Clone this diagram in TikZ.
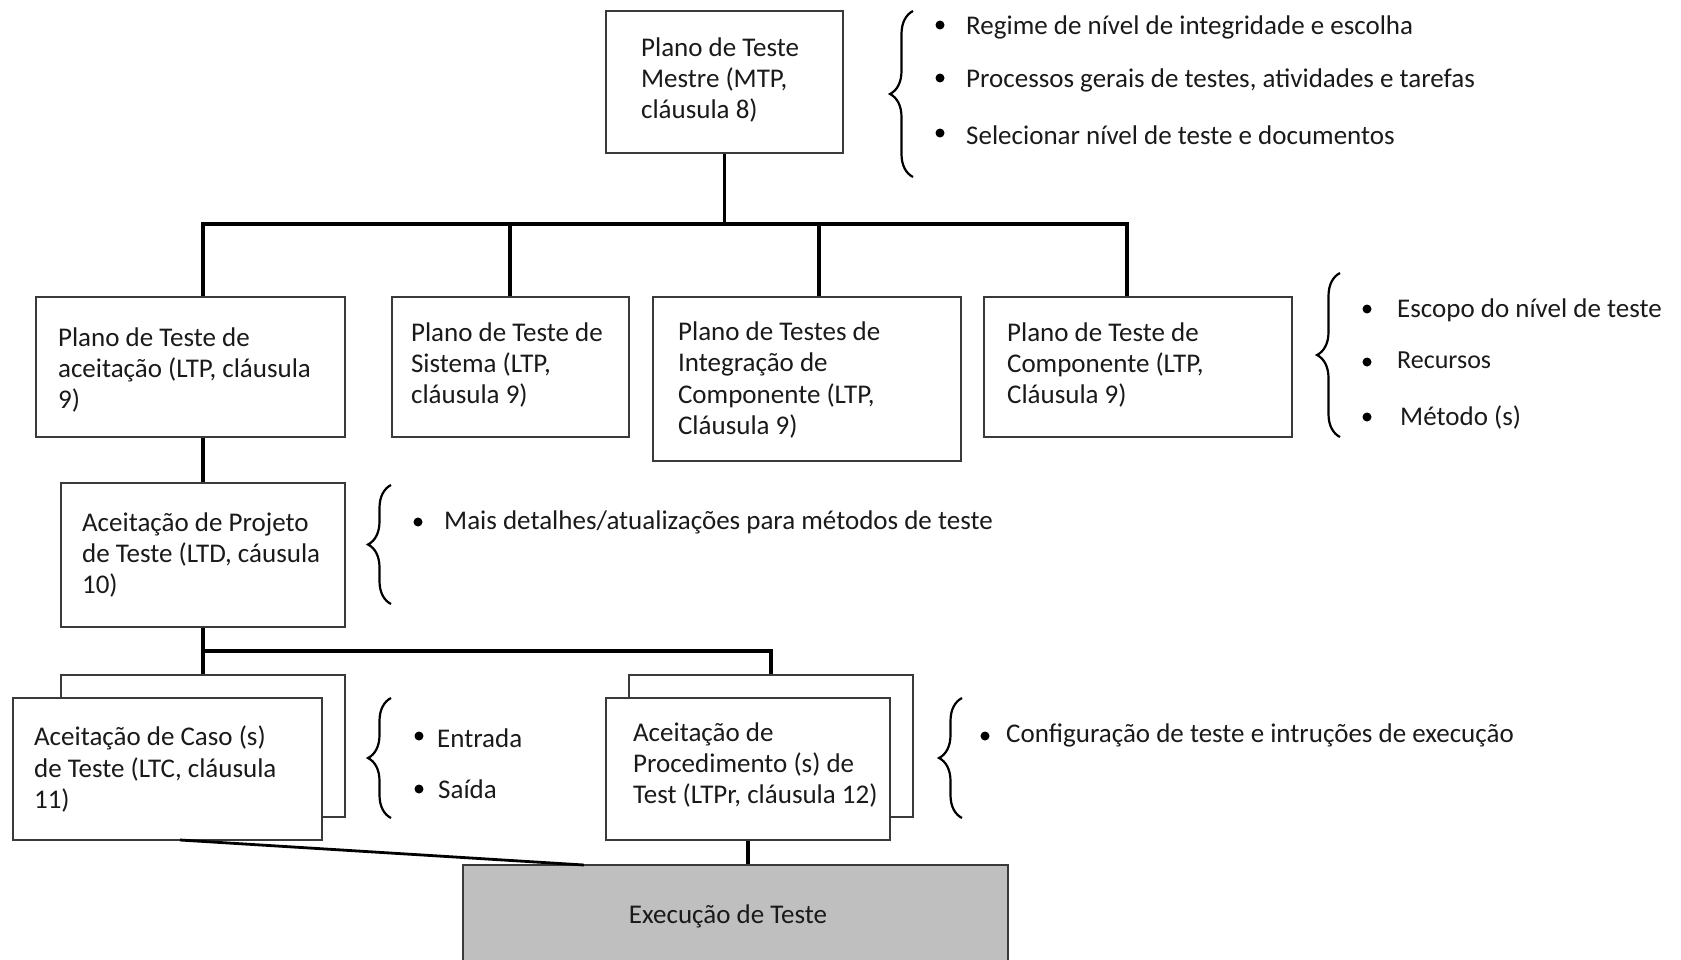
\documentclass[tikz,border=0pt]{standalone}
\usepackage{fontspec}
\setmainfont{Carlito}
\usetikzlibrary{decorations.pathreplacing,calc}
\definecolor{boxc}{HTML}{3A3A3A}
\definecolor{txtc}{HTML}{1A1A1A}
\definecolor{execfill}{HTML}{BFBFBF}
\begin{document}
\begin{tikzpicture}[x=1pt,y=-1pt,
  box/.style={draw=boxc, line width=2.2pt, fill=white, inner sep=0pt},
  txt/.style={anchor=west, align=left, inner sep=0pt, font=\fontsize{27}{31.2}\selectfont, text=txtc},
  conn/.style={line width=3.2pt, black},
  brc/.style={decorate, decoration={brace, amplitude=23pt}, line width=2.2pt, black},
  dot/.style={circle, fill=black, inner sep=0pt, minimum size=9pt},
]
\useasboundingbox (0,0) rectangle (1681,959);

% ---- boxes ----
\node[box, minimum width=237pt, minimum height=142pt] (mtp) at (724.5,82) {};
\node[txt] (mtpt) at ([xshift=36pt,yshift=2pt]mtp.west) {Plano de Teste\\Mestre (MTP,\\cláusula 8)};

\node[box, minimum width=309pt, minimum height=140pt] (pa) at (190.5,367) {};
\node[txt] (pat) at ([xshift=23pt,yshift=-3pt]pa.west) {Plano de Teste de\\aceitação (LTP, cláusula\\9)};

\node[box, minimum width=237pt, minimum height=140pt] (pb) at (510.5,367) {};
\node[txt] (pbt) at ([xshift=20pt,yshift=2pt]pb.west) {Plano de Teste de\\Sistema (LTP,\\cláusula 9)};

\node[box, minimum width=308pt, minimum height=164pt] (pc) at (807,379) {};
\node[txt] (pct) at ([xshift=26pt,yshift=-1pt]pc.west) {Plano de Testes de\\Integração de\\Componente (LTP,\\Cláusula 9)};

\node[box, minimum width=308pt, minimum height=140pt] (pd) at (1138,367) {};
\node[txt] (pdt) at ([xshift=24pt,yshift=2pt]pd.west) {Plano de Teste de\\Componente (LTP,\\Cláusula 9)};

\node[box, minimum width=284pt, minimum height=144pt] (pe) at (203,555) {};
\node[txt] (pet) at ([xshift=22pt,yshift=0pt]pe.west) {Aceitação de Projeto\\de Teste (LTD, cáusula\\10)};

\node[box, minimum width=284pt, minimum height=142pt] (bk1) at (203,746) {};
\node[box, minimum width=309pt, minimum height=142pt] (f1) at (167.5,769) {};
\node[txt] (f1t) at ([xshift=22pt,yshift=0pt]f1.west) {Aceitação de Caso (s)\\de Teste (LTC, cláusula\\11)};

\node[box, minimum width=284pt, minimum height=142pt] (bk2) at (771,746) {};
\node[box, minimum width=284pt, minimum height=142pt] (f2) at (748,769) {};
\node[txt] (f2t) at ([xshift=28pt,yshift=4pt]f2.west) {Aceitação de\\Procedimento (s) de\\Test (LTPr, cláusula 12)};

\node[box, fill=execfill, minimum width=545pt, minimum height=120pt] (ex) at (735.5,925) {};
\node[txt, anchor=center] (ext) at (728,916) {Execução de Teste};

% ---- connectors ----
\coordinate (j1) at (724.5,224);
\coordinate (dA) at (203,224);
\coordinate (dB) at (510,224);
\coordinate (dC) at (819,224);
\coordinate (dD) at (1127,224);
\draw[conn] (mtp.south) -- (j1);
\draw[conn] (dA |- pa.north) -- (dA) -- (dD) -- (dD |- pd.north);
\draw[conn] (dB) -- (dB |- pb.north);
\draw[conn] (dC) -- (dC |- pc.north);
\draw[conn] (pe.north |- pa.south) -- (pe.north);
\coordinate (j2) at (203,651);
\draw[conn] (pe.south) -- (bk1.north);
\draw[conn] (j2) -- (j2 -| bk2.north) -- (bk2.north);
\draw[conn] (f2.south) -- (f2.south |- ex.north);
\coordinate (dg1) at (180,840);
\coordinate (dg2) at (584,865);
\draw[line width=2.8pt, black] (dg1) -- (dg2);

% ---- braces and bullets ----
\draw[brc] (913,177) -- (913,11);
\node[dot] (b11) at (940,25) {};
\node[txt] (t11) at (966,27) {Regime de nível de integridade e escolha};
\node[dot] (b12) at (940,78) {};
\node[txt] (t12) at (966,80) {Processos gerais de testes, atividades e tarefas};
\node[dot] (b13) at (940,133) {};
\node[txt] (t13) at (966,135) {Selecionar nível de teste e documentos};

\draw[brc] (1340,437) -- (1340,273);
\node[dot] (b21) at (1367,309) {};
\node[txt] (t21) at (1397,310) {Escopo do nível de teste};
\node[dot] (b22) at (1367,362) {};
\node[txt, font=\fontsize{26}{30}\selectfont] (t22) at (1397,360) {Recursos};
\node[dot] (b23) at (1367,417) {};
\node[txt] (t23) at (1400,417) {Método (s)};

\draw[brc] (391,604) -- (391,485);
\node[dot] (b31) at (418,522) {};
\node[txt] (t31) at (444,522) {Mais detalhes/atualizações para métodos de teste};

\draw[brc] (391,818) -- (391,698);
\node[dot] (b41) at (419,736) {};
\node[txt] (t41) at (437,738) {Entrada};
\node[dot] (b42) at (419,789) {};
\node[txt] (t42) at (438,789) {Saída};

\draw[brc] (962,818) -- (962,698);
\node[dot] (b51) at (985,736) {};
\node[txt] (t51) at (1006,735) {Configuração de teste e intruções de execução};
\end{tikzpicture}
\end{document}
